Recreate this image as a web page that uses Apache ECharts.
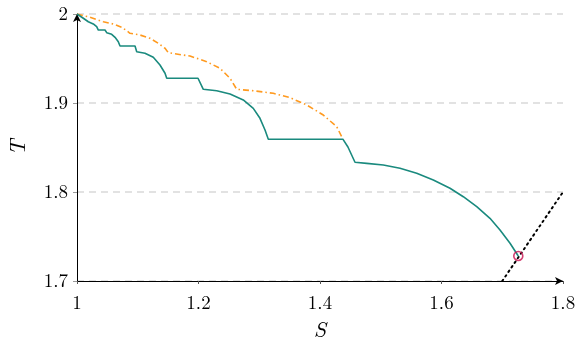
<!DOCTYPE html>
<html>
<head>
<meta charset="utf-8">
<script src="https://cdn.jsdelivr.net/npm/echarts@6/dist/echarts.min.js"></script>
<style>
  html, body { margin: 0; padding: 0; background: #fff; }
  #chart { width: 577px; height: 338px; }
</style>
</head>
<body>
<div id="chart"></div>
<script>
// values
var tealX = [1, 1.0104, 1.0186, 1.0268, 1.0324, 1.0351, 1.0461, 1.0489, 1.0571, 1.0626, 1.0680, 1.0708,
  1.0955, 1.0983, 1.1119, 1.1256, 1.1366, 1.1449, 1.1477,
  1.1992, 1.2079, 1.2300, 1.2519, 1.2737, 1.2902, 1.3012, 1.3095, 1.3149,
  1.4379, 1.446, 1.4576, 1.4769, 1.5042, 1.5317, 1.5592, 1.5865, 1.6140, 1.6359, 1.6580, 1.6798, 1.6963, 1.7128, 1.7264];
var tealY = [2, 1.9952, 1.9913, 1.9888, 1.9857, 1.9820, 1.9820, 1.9790, 1.9772, 1.9738, 1.9689, 1.9640,
  1.9640, 1.9576, 1.9558, 1.9513, 1.9427, 1.9334, 1.9278,
  1.9278, 1.9154, 1.9138, 1.9101, 1.9034, 1.8940, 1.8828, 1.8697, 1.8592,
  1.8592, 1.8506, 1.8334, 1.8322, 1.8303, 1.8266, 1.8210, 1.8135, 1.8042, 1.7947, 1.7835, 1.7704, 1.7573, 1.7424, 1.7281];

var orangeX = [1, 1.0214, 1.0433, 1.0598, 1.0736, 1.0818, 1.0872, 1.1037, 1.1202, 1.1338, 1.1449, 1.1503,
  1.1745, 1.1860, 1.2135, 1.2354, 1.2519, 1.2629, 1.2902, 1.3231, 1.3506, 1.3781, 1.4054, 1.4275, 1.4379];
var orangeY = [2, 1.9963, 1.9913, 1.9888, 1.9851, 1.9812, 1.9783, 1.9764, 1.9727, 1.9671, 1.9615, 1.9565,
  1.9539, 1.9528, 1.9464, 1.9390, 1.9278, 1.9154, 1.9138, 1.9109, 1.9060, 1.8978, 1.8865, 1.8734, 1.8592];

var diagX = [1.7, 1.8];
var diagY = [1.7, 1.8];

var markX = 1.7264;
var markY = 1.7281;

function pairs(xs, ys) {
  return xs.map(function (x, i) { return [x, ys[i]]; });
}

var chartDom = document.getElementById('chart');
var myChart = echarts.init(chartDom);
var font = 'Latin Modern Roman, DejaVu Serif, serif';

var option = {
  animation: false,
  grid: { left: 77, right: 14, top: 14, bottom: 57, containLabel: false, outerBoundsMode: 'none' },
  xAxis: {
    type: 'value',
    min: 1, max: 1.8, interval: 0.2,
    name: 'S',
    nameLocation: 'middle',
    nameGap: 38,
    nameTextStyle: { fontFamily: font, fontStyle: 'italic', fontSize: 22, color: '#000' },
    axisLine: { show: true, lineStyle: { color: '#000', width: 1 }, symbol: ['none', 'arrow'], symbolSize: [6, 8] },
    axisTick: { show: true, length: 3, lineStyle: { color: '#555' } },
    axisLabel: {
      fontFamily: font, fontSize: 19, color: '#000', margin: 13,
      formatter: function (v) { return String(Math.round(v * 10) / 10); }
    },
    splitLine: { show: false }
  },
  yAxis: {
    type: 'value',
    min: 1.7, max: 2, interval: 0.1,
    name: 'T',
    nameLocation: 'middle',
    nameGap: 48,
    nameRotate: 90,
    nameTextStyle: { fontFamily: font, fontStyle: 'italic', fontSize: 22, color: '#000' },
    axisLine: { show: true, lineStyle: { color: '#000', width: 1 }, symbol: ['none', 'arrow'], symbolSize: [6, 8] },
    axisTick: { show: true, length: 4, lineStyle: { color: '#999' } },
    axisLabel: {
      fontFamily: font, fontSize: 19, color: '#000', margin: 9,
      formatter: function (v) { return String(Math.round(v * 10) / 10); }
    },
    splitLine: { show: true, lineStyle: { color: '#d9d9d9', type: [7, 5], width: 1.5 } }
  },
  series: [
    {
      name: 'upper',
      type: 'line',
      data: pairs(orangeX, orangeY),
      showSymbol: false,
      lineStyle: { color: '#ff9a1f', width: 1.6, type: [6, 3, 1.5, 3] },
      z: 2
    },
    {
      name: 'lower',
      type: 'line',
      data: pairs(tealX, tealY),
      showSymbol: false,
      lineStyle: { color: '#1a8a7e', width: 1.6 },
      z: 3
    },
    {
      name: 'diagonal',
      type: 'line',
      data: pairs(diagX, diagY),
      showSymbol: false,
      lineStyle: { color: '#000', width: 2, type: [1.5, 4], cap: 'round' },
      z: 2
    },
    {
      name: 'point',
      type: 'scatter',
      data: [[markX, markY]],
      symbol: 'circle',
      symbolSize: 9,
      itemStyle: { color: 'rgba(0,0,0,0)', borderColor: '#c8104f', borderWidth: 1.6 },
      z: 4
    }
  ]
};

option && myChart.setOption(option);
</script>
</body>
</html>
